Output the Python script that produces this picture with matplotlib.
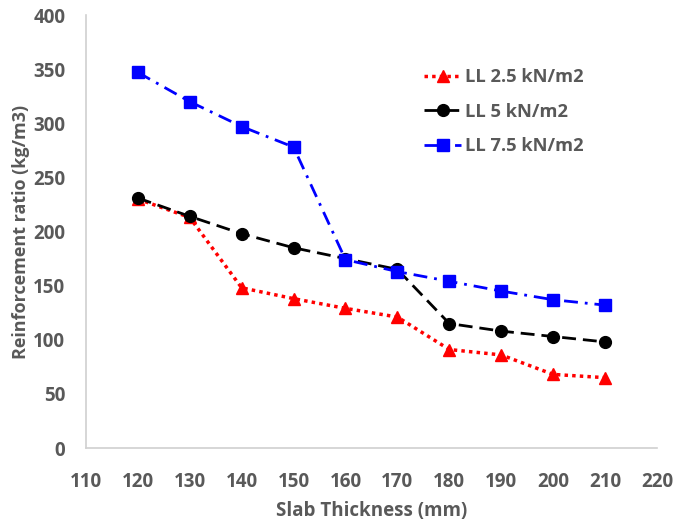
import matplotlib.pyplot as plt

thickness = [120, 130, 140, 150, 160, 170, 180, 190, 200, 210]
ll_25 = [230, 213, 148, 138, 129, 121, 91, 86, 68, 65]
ll_5 = [231, 214, 198, 185, 175, 165, 115, 108, 103, 98]
ll_75 = [347, 320, 297, 278, 174, 163, 154, 145, 137, 132]

xticks = list(range(110, 230, 10))
yticks = list(range(0, 450, 50))

plt.rcParams['font.family'] = ['Open Sans', 'DejaVu Sans']
txt = '#595959'

fig = plt.figure(figsize=(6.85, 5.28), dpi=100)
ax = fig.add_axes([0.1255, 0.1515, 0.8335, 0.82])

ax.plot(thickness, ll_25, color='#ff0000', linestyle=(0, (1, 1.2)), linewidth=2.5,
        marker='^', markersize=9, label='LL 2.5 kN/m2')
ax.plot(thickness, ll_5, color='black', linestyle=(0, (5, 2.5)), linewidth=2,
        marker='o', markersize=8.5, label='LL 5 kN/m2')
ax.plot(thickness, ll_75, color='#0000ff', linestyle=(0, (5, 2.5, 1, 2.5)), linewidth=2,
        marker='s', markersize=8.5, label='LL 7.5 kN/m2')

ax.set_xlim(110, 220)
ax.set_ylim(0, 400)
ax.set_xticks(xticks)
ax.set_yticks(yticks)
ax.tick_params(length=0, labelsize=13.5, labelcolor=txt)
ax.tick_params(axis='x', pad=17)
ax.tick_params(axis='y', pad=15)
for lab in ax.get_xticklabels() + ax.get_yticklabels():
    lab.set_fontweight('bold')

for s in ['top', 'right']:
    ax.spines[s].set_visible(False)
for s in ['left', 'bottom']:
    ax.spines[s].set_color('#d0d0d0')
    ax.spines[s].set_linewidth(1.2)

ax.set_xlabel('Slab Thickness (mm)', fontsize=13.5, color=txt, fontweight='bold', labelpad=7)
ax.set_ylabel('Reinforcement ratio (kg/m3)', fontsize=13, color=txt, fontweight='bold', labelpad=2)

leg = ax.legend(loc='upper right', bbox_to_anchor=(0.9, 0.915), frameon=False, fontsize=13.2,
                handlelength=2.0, handletextpad=0.2, labelspacing=0.9)
for t in leg.get_texts():
    t.set_color(txt)
    t.set_fontweight('bold')

plt.savefig('out.png', dpi=100)
